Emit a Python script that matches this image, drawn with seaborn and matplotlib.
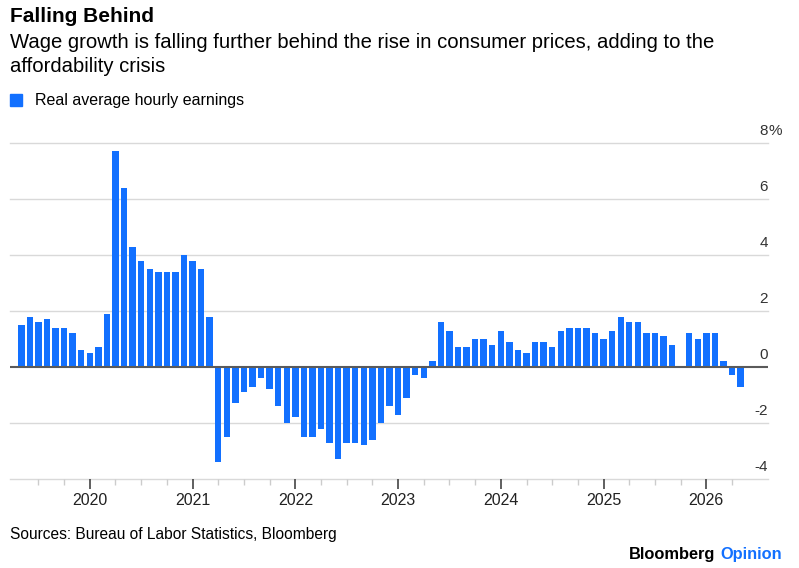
"""
Falling Behind: real average hourly earnings, y/y % change (Bloomberg Opinion style bar chart).
Writes: out.png
"""

import numpy as np
import pandas as pd
import matplotlib.pyplot as plt
import seaborn as sns
from matplotlib.lines import Line2D
from matplotlib.transforms import blended_transform_factory

BLUE = "#1270ff"
W, H = 799, 568

# Monthly values, May 2019 .. May 2026 (Oct 2025 missing)
months = pd.date_range("2019-05-01", "2026-05-01", freq="MS")
values_2019 = [1.5, 1.8, 1.6, 1.7, 1.4, 1.4, 1.2, 0.6]
values_2020 = [0.5, 0.7, 1.9, 7.7, 6.4, 4.3, 3.8, 3.5, 3.4, 3.4, 3.4, 4.0]
values_2021 = [3.8, 3.5, 1.8, -3.4, -2.5, -1.3, -0.9, -0.7, -0.4, -0.8, -1.4, -2.0]
values_2022 = [-1.8, -2.5, -2.5, -2.2, -2.7, -3.3, -2.7, -2.7, -2.8, -2.6, -2.0, -1.4]
values_2023 = [-1.7, -1.1, -0.3, -0.4, 0.2, 1.6, 1.3, 0.7, 0.7, 1.0, 1.0, 0.8]
values_2024 = [1.3, 0.9, 0.6, 0.5, 0.9, 0.9, 0.7, 1.3, 1.4, 1.4, 1.4, 1.2]
values_2025 = [1.0, 1.3, 1.8, 1.6, 1.6, 1.2, 1.2, 1.1, 0.8, np.nan, 1.2, 1.0]
values_2026 = [1.2, 1.2, 0.2, -0.3, -0.7]
values = values_2019 + values_2020 + values_2021 + values_2022 + values_2023 + values_2024 + values_2025 + values_2026

y_ticks = [-4, -2, 0, 2, 4, 6, 8]
years = [2020, 2021, 2022, 2023, 2024, 2025, 2026]

df = pd.DataFrame({"month": months.strftime("%Y-%m"), "value": values})
order = list(df["month"])

fig = plt.figure(figsize=(W / 100, H / 100), dpi=100)
ax = fig.add_axes([10 / W, 1 - 479 / H, (768 - 10) / W, (479 - 143) / H])

sns.barplot(data=df, x="month", y="value", order=order, color=BLUE,
            width=0.75, saturation=1, ax=ax, zorder=3)

ax.set_xlim(-1.32, 87.2)
ax.set_ylim(-4, 8)
for s in ax.spines.values():
    s.set_visible(False)
ax.set_xlabel("")
ax.set_ylabel("")

# gridlines
for v in y_ticks:
    if v == 0:
        ax.axhline(v, color="#5a5a5a", lw=1.5, zorder=4)
    else:
        ax.axhline(v, color="#d9d9d9", lw=1.0, zorder=1, clip_on=False)

# y labels on the right, sitting above the gridlines
trans = blended_transform_factory(ax.transAxes, ax.transData)
for v in y_ticks:
    ax.text(1.0, v + 0.43, f"{v}", transform=trans, ha="right", va="center",
            fontsize=11, color="#333333", family="Liberation Sans")
ax.text(1.0, 8 + 0.43, "%", transform=trans, ha="left", va="center",
        fontsize=11, color="#333333", family="Liberation Sans")
ax.set_yticks([])

# x ticks: years (major) and quarters (minor)
idx = {m: i for i, m in enumerate(order)}
major = [idx[f"{y}-01"] for y in years]
minor = [i for i, m in enumerate(months) if m.month in (4, 7, 10)]
ax.set_xticks(major)
ax.set_xticklabels([str(y) for y in years], fontsize=11.5, color="#222222",
                   family="Liberation Sans")
ax.set_xticks(minor, minor=True)
ax.tick_params(axis="x", which="major", length=7, width=1.2, color="#444444", pad=3)
ax.tick_params(axis="x", which="minor", length=4, width=1, color="#cccccc")

# titles
fig.text(10 / W, 1 - 17 / H, "Falling Behind", fontsize=15, fontweight="bold",
         va="center", ha="left", family="Liberation Sans")
fig.text(10 / W, 1 - 43 / H, "Wage growth is falling further behind the rise in consumer prices, adding to the",
         fontsize=14.6, va="center", ha="left", family="Liberation Sans")
fig.text(10 / W, 1 - 66 / H, "affordability crisis",
         fontsize=14.6, va="center", ha="left", family="Liberation Sans")

# legend
handle = Line2D([], [], marker="s", color=BLUE, linestyle="none", markersize=8,
                label="Real average hourly earnings")
fig.legend(handles=[handle], loc="center left", bbox_to_anchor=(9 / W, 1 - 101 / H),
           frameon=False, handlelength=0.9, handletextpad=0.7, borderaxespad=0,
           borderpad=0, prop={"family": "Liberation Sans", "size": 11.5})

# footer
fig.text(10 / W, 1 - 535 / H, "Sources: Bureau of Labor Statistics, Bloomberg",
         fontsize=11.2, va="center", ha="left", family="Liberation Sans")
t = fig.text(782 / W, 1 - 554 / H, "Opinion", fontsize=11.8, fontweight="bold",
             color=BLUE, va="center", ha="right", family="Liberation Sans")
ax.annotate("Bloomberg", xy=(0, 0.5), xycoords=t, xytext=(-4, 0),
            textcoords="offset points", ha="right", va="center", fontsize=11.8,
            fontweight="bold", family="Liberation Sans", annotation_clip=False)

fig.savefig("out.png", dpi=100)
